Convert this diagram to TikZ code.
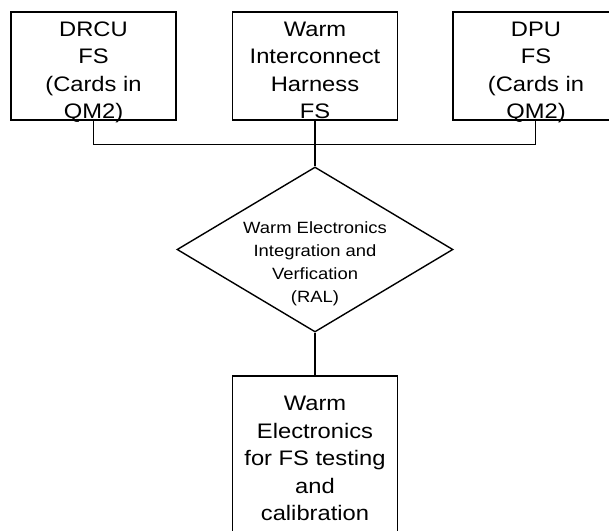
\documentclass[tikz,border=0pt]{standalone}
\usepackage{fontspec}
\setmainfont{Liberation Sans}[FakeStretch=1.13]
\usetikzlibrary{shapes.geometric}

% centred stack of lines whose baseline is the first line's baseline
\newcommand\linestack[1]{\begin{tabular}[t]{@{}c@{}}#1\end{tabular}}

\begin{document}
\begin{tikzpicture}[x=1pt,y=-1pt,line width=1.4pt,
  boxnode/.style={draw,rectangle,inner sep=0pt,minimum width=165pt,minimum height=108pt},
  decnode/.style={draw,diamond,inner sep=0pt,minimum width=276pt,minimum height=165pt},
  boxtext/.style={inner sep=0pt,anchor=base,font=\fontsize{21}{27.5}\selectfont},
  dectext/.style={inner sep=0pt,anchor=base,font=\fontsize{16.3}{23.3}\selectfont}]
  \clip (0,0) rectangle (609,530);

  % supply boxes
  \node[boxnode] (drcu) at (93.5,66) {};
  \node[boxnode] (wih)  at (315,66) {};
  \node[boxnode] (dpu)  at (535.5,66) {};
  \node[boxtext] (drcuT) at (93.5,36) {\linestack{DRCU\\FS\\(Cards in\\QM2)}};
  \node[boxtext] (wihT)  at (315,36) {\linestack{Warm\\Interconnect\\Harness\\FS}};
  \node[boxtext] (dpuT)  at (536,36) {\linestack{DPU\\FS\\(Cards in\\QM2)}};

  % integration step
  \node[decnode] (wei) at (315,249.5) {};
  \node[dectext] (weiT) at (315,233) {\linestack{Warm Electronics\\Integration and\\Verfication\\(RAL)}};

  % result box
  \node[boxnode,minimum height=170pt] (wefs) at (315,461) {};
  \node[boxtext] (wefsT) at (315,410.5) {\linestack{Warm\\Electronics\\for FS testing\\and\\calibration}};

  % connectors
  \draw (drcu.south) -- ++(0,24) -| (dpu.south);
  \draw (wih.south) -- (wei.north);
  \draw (wei.south) -- (wefs.north);
\end{tikzpicture}
\end{document}
